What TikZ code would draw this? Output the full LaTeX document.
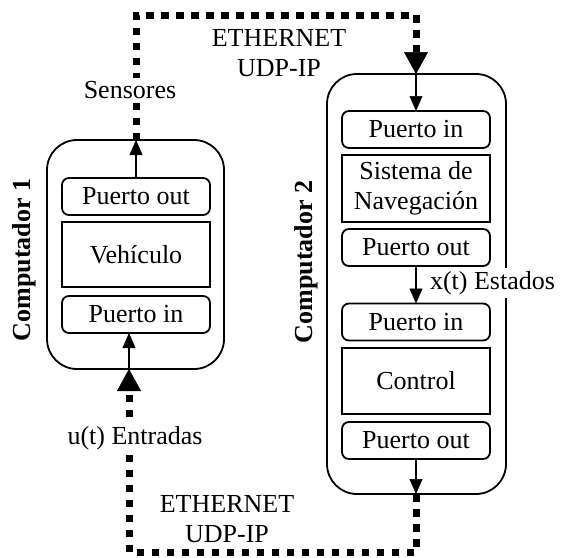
\documentclass[tikz,border=0pt]{standalone}
\usepackage{fontspec}
\setmainfont{Liberation Serif}
\usetikzlibrary{arrows.meta}
\begin{document}
\begin{tikzpicture}[x=1pt,y=-1pt,
  every node/.style={font=\rmfamily\fontsize{26}{30}\selectfont, inner sep=0pt, outer sep=0pt},
  outerbox/.style={draw, line width=1.8pt, rounded corners=30pt},
  portbox/.style={draw, line width=1.8pt, rounded corners=7pt, minimum width=148pt, minimum height=37pt},
  blockbox/.style={draw, line width=1.8pt, minimum width=148pt, align=center},
  solidarrow/.style={line width=1.8pt, -{Triangle[length=15pt,width=13pt,line width=0.5pt]}},
  netline/.style={line width=7pt, dash pattern=on 7.5pt off 7.5pt},
  nettip/.style={-{Triangle[length=22pt,width=24pt,line width=0.5pt]}},
  lbl/.style={fill=white, inner sep=3pt, align=center},
  netlbl/.style={align=center},
  complbl/.style={rotate=90, font=\rmfamily\fontsize{26}{30}\selectfont\bfseries}
]
\useasboundingbox (0,0) rectangle (565,557);

% Computador 1
\node[outerbox, minimum width=177pt, minimum height=229pt] (c1) at (135.5,254.5) {};
\node[portbox] (c1out) at (136,196.5) {Puerto out};
\node[blockbox, minimum height=65pt] (veh) at (136,254.5) {Vehículo};
\node[portbox] (c1in) at (136,314.5) {Puerto in};
\node[complbl] (c1lbl) at (24,260) {Computador 1};

% Computador 2
\node[outerbox, minimum width=179pt, minimum height=420pt] (c2) at (416.5,284) {};
\node[portbox] (c2in) at (416,129.5) {Puerto in};
\node[blockbox, minimum height=67pt] (nav) at (416,188.5) {Sistema de\\Navegación};
\node[portbox] (c2out) at (416,247.5) {Puerto out};
\node[portbox] (c2in2) at (416,322) {Puerto in};
\node[blockbox, minimum height=66pt] (ctrl) at (416,381) {Control};
\node[portbox] (c2out2) at (416,440.5) {Puerto out};
\node[complbl] (c2lbl) at (306,262) {Computador 2};

% coordinates for network paths
\coordinate (c1top) at (c1out.north |- c1.north);
\coordinate (tl) at (136,15);
\coordinate (tr) at (416,15);
\coordinate (c2top) at (tr |- c2.north);
\coordinate (c2bot) at (c2out2.south |- c2.south);
\coordinate (br) at (416,552);
\coordinate (bl) at (129,552);
\coordinate (c1bot) at (bl |- c1.south);
\coordinate (c1inb) at (bl |- c1in.south);

% solid arrows
\draw[solidarrow] (c1out.north) -- (c1top);
\draw[solidarrow] (c2top) -- (c2in.north);
\draw[solidarrow] (c2out.south) -- (c2in2.north);
\draw[solidarrow] (c2out2.south) -- (c2bot);
\draw[solidarrow] (c1bot) -- (c1inb);

% network links
\draw[netline, nettip] (c1top) -- (tl) -- (tr) -- (c2top);
\draw[netline, nettip] (c2bot) -- (br) -- (bl) -- (c1bot);

% labels
\node[lbl] (sens) at (130,90) {Sensores};
\node[netlbl] (eth1) at (279,53) {ETHERNET\\UDP-IP};
\node[lbl, anchor=west] (xst) at (427,283) {x(t) Estados};
\node[lbl] (ut) at (135,438) {u(t) Entradas};
\node[netlbl] (eth2) at (227,519) {ETHERNET\\UDP-IP};
\end{tikzpicture}
\end{document}
